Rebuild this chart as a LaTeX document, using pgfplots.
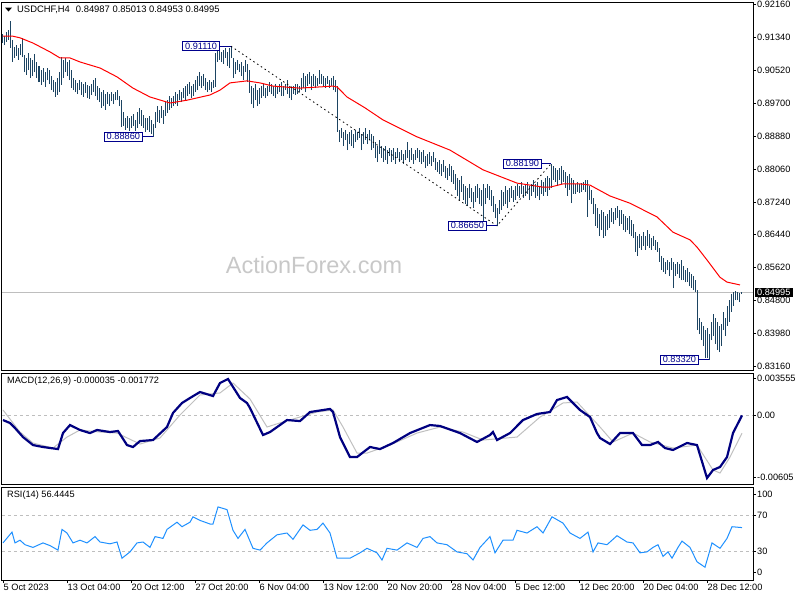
\documentclass[border=0pt]{standalone}
\usepackage{pgfplots}
\pgfplotsset{compat=1.18}
\usepackage{pgfplotstable}
\usepackage{fontspec}
\setmainfont{Liberation Sans}
\definecolor{barcol}{RGB}{28,68,98}
\definecolor{macdcol}{RGB}{0,0,128}
\definecolor{sigcol}{RGB}{192,192,192}
\definecolor{rsicol}{RGB}{30,144,255}
\definecolor{lblcol}{RGB}{0,0,140}
\definecolor{wmcol}{RGB}{200,200,200}
\definecolor{lvlcol}{RGB}{190,190,190}

\pgfplotstableread{
hi lo
0.9141 0.9119
0.9136 0.9114
0.9146 0.9122
0.9151 0.9127
0.9174 0.9107
0.9127 0.9072
0.9109 0.9082
0.9114 0.9087
0.9107 0.9077
0.9117 0.9089
0.9132 0.9084
0.9089 0.9047
0.9082 0.9040
0.9094 0.9052
0.9082 0.9032
0.9077 0.9037
0.9092 0.9047
0.9072 0.9032
0.9062 0.9022
0.9052 0.9015
0.9057 0.9022
0.9047 0.9010
0.9057 0.9027
0.9052 0.9017
0.9037 0.9002
0.9027 0.8997
0.9022 0.8985
0.9032 0.8990
0.9047 0.8997
0.9084 0.9015
0.9077 0.9032
0.9082 0.9047
0.9072 0.9037
0.9077 0.9027
0.9052 0.9007
0.9032 0.9002
0.9027 0.8997
0.9020 0.8992
0.9027 0.9002
0.9022 0.8990
0.9017 0.8985
0.9022 0.8995
0.9015 0.8982
0.9012 0.8980
0.9017 0.8990
0.9027 0.8997
0.9032 0.8987
0.9012 0.8977
0.9007 0.8972
0.8997 0.8958
0.9002 0.8962
0.8992 0.8953
0.8997 0.8967
0.8992 0.8962
0.8997 0.8975
0.8992 0.8967
0.8997 0.8977
0.9002 0.8977
0.8987 0.8962
0.8977 0.8910
0.8948 0.8913
0.8933 0.8903
0.8938 0.8908
0.8933 0.8900
0.8938 0.8908
0.8943 0.8913
0.8928 0.8900
0.8948 0.8908
0.8958 0.8918
0.8953 0.8913
0.8940 0.8908
0.8933 0.8898
0.8933 0.8903
0.8938 0.8898
0.8928 0.8893
0.8918 0.8886
0.8948 0.8908
0.8962 0.8923
0.8953 0.8920
0.8962 0.8933
0.8953 0.8918
0.8972 0.8938
0.8977 0.8945
0.8987 0.8953
0.8982 0.8958
0.8987 0.8962
0.8997 0.8967
0.8992 0.8962
0.9002 0.8977
0.8997 0.8972
0.9007 0.8982
0.9012 0.8977
0.9017 0.8987
0.9022 0.8992
0.9012 0.8982
0.9017 0.8987
0.9027 0.8997
0.9037 0.9002
0.9047 0.9012
0.9037 0.9007
0.9042 0.9012
0.9032 0.9002
0.9022 0.8997
0.9027 0.9002
0.9022 0.8997
0.9027 0.9007
0.9094 0.9010
0.9102 0.9072
0.9107 0.9077
0.9097 0.9072
0.9102 0.9067
0.9107 0.9082
0.9097 0.9062
0.9107 0.9057
0.9111 0.9082
0.9082 0.9032
0.9072 0.9042
0.9077 0.9052
0.9067 0.9047
0.9072 0.9037
0.9062 0.9027
0.9077 0.9047
0.9067 0.9022
0.9052 0.8995
0.9012 0.8967
0.9007 0.8958
0.9017 0.8977
0.9002 0.8962
0.9007 0.8967
0.9012 0.8982
0.9017 0.8987
0.9007 0.8982
0.9012 0.8987
0.9022 0.8997
0.9017 0.8992
0.9012 0.8987
0.9017 0.8982
0.9012 0.8992
0.9017 0.8997
0.9022 0.8987
0.9012 0.8987
0.9017 0.9002
0.9027 0.8992
0.9012 0.8982
0.9007 0.8977
0.9012 0.8992
0.9017 0.8990
0.9017 0.8992
0.9012 0.8997
0.9032 0.9002
0.9045 0.9007
0.9037 0.8997
0.9042 0.9012
0.9047 0.9017
0.9037 0.9002
0.9042 0.9012
0.9037 0.9007
0.9032 0.9012
0.9052 0.9017
0.9042 0.9017
0.9037 0.9012
0.9032 0.9007
0.9037 0.9017
0.9027 0.9007
0.9032 0.9012
0.9037 0.9002
0.9027 0.8997
0.9012 0.8898
0.8903 0.8873
0.8908 0.8883
0.8898 0.8863
0.8903 0.8878
0.8893 0.8853
0.8898 0.8868
0.8903 0.8863
0.8893 0.8858
0.8903 0.8873
0.8898 0.8878
0.8908 0.8883
0.8893 0.8853
0.8898 0.8868
0.8908 0.8878
0.8893 0.8868
0.8903 0.8878
0.8893 0.8853
0.8888 0.8858
0.8873 0.8833
0.8863 0.8823
0.8878 0.8843
0.8863 0.8833
0.8858 0.8823
0.8863 0.8828
0.8853 0.8819
0.8858 0.8838
0.8853 0.8823
0.8858 0.8828
0.8848 0.8819
0.8858 0.8833
0.8848 0.8823
0.8853 0.8828
0.8843 0.8819
0.8853 0.8828
0.8873 0.8833
0.8853 0.8823
0.8858 0.8828
0.8843 0.8819
0.8853 0.8828
0.8858 0.8833
0.8853 0.8823
0.8848 0.8819
0.8853 0.8823
0.8838 0.8808
0.8843 0.8813
0.8848 0.8819
0.8838 0.8813
0.8848 0.8823
0.8833 0.8804
0.8823 0.8799
0.8828 0.8794
0.8819 0.8789
0.8828 0.8799
0.8813 0.8784
0.8808 0.8779
0.8819 0.8789
0.8813 0.8774
0.8804 0.8769
0.8794 0.8754
0.8784 0.8739
0.8779 0.8729
0.8789 0.8749
0.8769 0.8729
0.8764 0.8719
0.8759 0.8714
0.8769 0.8734
0.8759 0.8724
0.8749 0.8709
0.8764 0.8724
0.8769 0.8734
0.8759 0.8719
0.8754 0.8714
0.8769 0.8674
0.8759 0.8719
0.8769 0.8734
0.8764 0.8729
0.8754 0.8714
0.8739 0.8699
0.8719 0.8684
0.8709 0.8665
0.8729 0.8694
0.8754 0.8704
0.8749 0.8714
0.8764 0.8719
0.8754 0.8709
0.8759 0.8724
0.8764 0.8734
0.8754 0.8724
0.8764 0.8729
0.8769 0.8739
0.8764 0.8734
0.8774 0.8744
0.8764 0.8734
0.8769 0.8739
0.8774 0.8744
0.8764 0.8729
0.8769 0.8739
0.8779 0.8749
0.8769 0.8734
0.8774 0.8739
0.8764 0.8729
0.8779 0.8744
0.8774 0.8739
0.8784 0.8749
0.8789 0.8739
0.8784 0.8754
0.8819 0.8759
0.8813 0.8779
0.8808 0.8774
0.8804 0.8764
0.8808 0.8779
0.8813 0.8769
0.8804 0.8774
0.8799 0.8759
0.8789 0.8739
0.8794 0.8754
0.8784 0.8721
0.8779 0.8744
0.8769 0.8744
0.8774 0.8749
0.8769 0.8746
0.8771 0.8749
0.8774 0.8754
0.8779 0.8749
0.8779 0.8687
0.8764 0.8729
0.8754 0.8719
0.8734 0.8694
0.8719 0.8665
0.8709 0.8659
0.8694 0.8639
0.8704 0.8654
0.8699 0.8635
0.8689 0.8639
0.8694 0.8654
0.8704 0.8659
0.8709 0.8674
0.8699 0.8669
0.8709 0.8679
0.8714 0.8684
0.8704 0.8665
0.8704 0.8669
0.8694 0.8654
0.8689 0.8649
0.8684 0.8654
0.8689 0.8644
0.8679 0.8639
0.8669 0.8635
0.8649 0.8600
0.8639 0.8590
0.8644 0.8610
0.8639 0.8605
0.8649 0.8615
0.8639 0.8605
0.8654 0.8615
0.8644 0.8610
0.8635 0.8605
0.8639 0.8615
0.8630 0.8605
0.8625 0.8600
0.8610 0.8575
0.8590 0.8555
0.8585 0.8550
0.8575 0.8545
0.8580 0.8555
0.8575 0.8540
0.8585 0.8555
0.8575 0.8510
0.8570 0.8540
0.8575 0.8545
0.8570 0.8535
0.8580 0.8530
0.8565 0.8530
0.8555 0.8525
0.8560 0.8525
0.8550 0.8515
0.8545 0.8510
0.8540 0.8505
0.8530 0.8500
0.8505 0.8406
0.8436 0.8396
0.8426 0.8381
0.8416 0.8366
0.8406 0.8336
0.8411 0.8336
0.8396 0.8332
0.8426 0.8381
0.8446 0.8391
0.8436 0.8371
0.8426 0.8356
0.8416 0.8351
0.8421 0.8366
0.8451 0.8406
0.8436 0.8391
0.8466 0.8416
0.8480 0.8426
0.8495 0.8451
0.8500 0.8466
0.8503 0.8480
0.8500 0.8480
0.8498 0.8475
0.8501 0.8495
}\bars

\pgfplotsset{panel/.style={
  scale only axis, width=751pt, xmin=-0.5, xmax=375,
  axis line style={black, line width=1pt},
  xtick=\empty, ytick pos=right, yticklabel pos=right,
  scaled y ticks=false, scaled x ticks=false,
  tick align=outside, major tick length=3pt,
  tick style={black, line width=0.8pt},
  tick label style={font=\fontsize{9.2}{10}\selectfont, black},
  yticklabel style={anchor=west, inner xsep=1pt},
}}
\tikzset{lbox/.style={anchor=east, draw=lblcol, fill=white, text=lblcol, line width=1pt, inner xsep=2.5pt, inner ysep=1.2pt, font=\fontsize{9.2}{10}\selectfont}}

\begin{document}
\begin{tikzpicture}
\useasboundingbox (0,0) rectangle (800pt,-600pt);
\node[wmcol, font=\fontsize{23.5}{24}\selectfont] at (314pt,-265pt) {ActionForex.com};

% ---------------- main price panel
\begin{axis}[panel, at={(2pt,-2pt)}, anchor=north west, height=368pt,
  ymin=0.83066, ymax=0.92210,
  ytick={0.9216,0.9134,0.9052,0.8970,0.8888,0.8806,0.8724,0.8644,0.8562,0.8480,0.8398,0.8316},
  yticklabels={0.92160,0.91340,0.90520,0.89700,0.88880,0.88060,0.87240,0.86440,0.85620,0.84800,0.83980,0.83160},
  clip=false]
\addplot[lvlcol, line width=0.8pt] coordinates {(-0.5,0.84995) (375,0.84995)};
\addplot[draw=none, mark=none, forget plot,
  error bars/.cd, y dir=plus, y explicit, error mark=none,
  error bar style={barcol, line width=1pt, solid}]
  table[x expr=\coordindex, y=lo, y error plus expr=\thisrow{hi}-\thisrow{lo}] {\bars};
\addplot[red, line width=1pt] coordinates {
(0,0.9136) (5,0.9136) (8.5,0.9132) (15,0.9119) (23.5,0.9097) (28.5,0.9082) (33.5,0.9082)
(38.5,0.9072) (48.5,0.9057) (57,0.9035) (65,0.9007) (73.5,0.8985) (83.5,0.8970) (92,0.8977)
(103.5,0.8990) (108.5,0.9002) (113.5,0.9020) (122,0.9025) (128.5,0.9020) (135,0.9012)
(148.5,0.9007) (165,0.9012) (167,0.9010) (172,0.8985) (181,0.8958) (190,0.8928) (207,0.8886)
(223.5,0.8853) (240,0.8804) (257,0.8771) (270,0.8761) (273.5,0.8761) (280,0.8769) (288.5,0.8769)
(293.5,0.8766) (303.5,0.8739) (313.5,0.8721) (327,0.8687) (335,0.8649) (343.5,0.8630)
(347,0.8612) (352,0.8580) (358.5,0.8537) (362,0.8525) (368.5,0.8518)};
\addplot[black, line width=0.8pt, dash pattern=on 1.5pt off 3pt] coordinates {(114,0.9111) (247,0.8665) (274,0.8819)};
% annotations
\draw[lblcol, line width=1pt] (axis cs:114,0.9111) -- ++(-11pt,0pt) node[lbox] {0.91110};
\draw[lblcol, line width=1pt] (axis cs:75,0.8886) -- ++(-10pt,0pt) node[lbox] {0.88860};
\draw[lblcol, line width=1pt] (axis cs:247,0.8665) -- ++(-10pt,0pt) node[lbox] {0.86650};
\draw[lblcol, line width=1pt] (axis cs:274,0.8819) -- ++(-9pt,0pt) node[lbox] {0.88190};
\draw[lblcol, line width=1pt] (axis cs:353,0.8332) -- ++(-10pt,0pt) node[lbox] {0.83320};
\coordinate (cp) at (axis cs:375,0.84995);
\end{axis}
\node[anchor=west, fill=black, text=white, inner xsep=2.5pt, inner ysep=1.5pt, font=\fontsize{9.2}{10}\selectfont] at ([xshift=1.5pt]cp) {0.84995};
\fill[black] (5pt,-7.5pt) -- (12pt,-7.5pt) -- (8.5pt,-11.5pt) -- cycle;
\node[anchor=west, font=\fontsize{9.4}{10}\selectfont, inner sep=0pt] at (17pt,-10pt) {USDCHF,H4\hspace{6pt}0.84987 0.85013 0.84953 0.84995};

% ---------------- MACD panel
\begin{axis}[panel, at={(2pt,-373pt)}, anchor=north west, height=111pt,
  ymin=-0.0067275, ymax=0.004095,
  ytick={0.003555,0,-0.00605}, yticklabels={0.003555,0.00,-0.00605}]
\addplot[lvlcol, line width=0.8pt, dashed] coordinates {(-0.5,0) (375,0)};
\addplot[sigcol, line width=1pt] coordinates {
(0,0.00049) (8.5,-0.00166) (15,-0.00273) (25,-0.00322) (32,-0.00215) (38.5,-0.00146)
(48.5,-0.00166) (57,-0.00176) (68.5,-0.00283) (78.5,-0.00224) (88.5,0) (98.5,0.00195)
(108.5,0.00215) (115,0.00312) (123.5,0.00156) (132,-0.00117) (140,-0.00068) (157,0.00029)
(165,0.00049) (170,-0.00117) (177,-0.00371) (182,-0.00371) (193.5,-0.00293) (207,-0.00176)
(218.5,-0.00117) (230,-0.00166) (240,-0.00244) (257,-0.00215) (268.5,-0.00020) (280,0.00117)
(287,0.00127) (298.5,-0.00117) (305,-0.00263) (315,-0.00176) (323.5,-0.00263) (335,-0.00322)
(347,-0.00293) (355,-0.00536) (358.5,-0.00566) (363.5,-0.00410) (369.5,-0.00177)};
\addplot[macdcol, line width=2.2pt] coordinates {
(0,-0.00049) (3.5,-0.00078) (6,-0.00127) (10,-0.00215) (15,-0.00293) (20,-0.00312)
(27.5,-0.00332) (30,-0.00176) (33.5,-0.00098) (38.5,-0.00146) (43.5,-0.00176) (47,-0.00146)
(53.5,-0.00166) (57.5,-0.00156) (62,-0.00293) (65,-0.00312) (68.5,-0.00254) (75,-0.00244)
(82,-0.00117) (85,0.00020) (89.5,0.00117) (93.5,0.00166) (98.5,0.00224) (105,0.00185)
(108.5,0.00312) (112.5,0.00351) (118.5,0.00166) (122,0.00117) (123.5,0.00068) (130,-0.00195)
(133.5,-0.00166) (142,-0.00049) (148.5,-0.00059) (153.5,0.00029) (163.5,0.00059) (165,0.00029)
(168.5,-0.00215) (173.5,-0.00410) (177,-0.00410) (183.5,-0.00312) (188.5,-0.00332)
(195,-0.00273) (203.5,-0.00176) (213.5,-0.00098) (218.5,-0.00107) (228.5,-0.00176)
(237,-0.00263) (243.5,-0.00195) (245,-0.00166) (247,-0.00244) (253.5,-0.00176) (260,-0.00049)
(267,0.00010) (273.5,0.00029) (277,0.00146) (282,0.00176) (288.5,0.00049) (293.5,-0.00020)
(297,-0.00176) (298.5,-0.00224) (303.5,-0.00283) (308.5,-0.00176) (315,-0.00176)
(319.5,-0.00293) (323.5,-0.00293) (327.5,-0.00263) (331,-0.00322) (335,-0.00341)
(342,-0.00273) (347,-0.00293) (352,-0.00614) (355,-0.00536) (358.5,-0.00507) (362,-0.00410)
(365,-0.00176) (369.5,-0.00004)};
\end{axis}
\node[anchor=west, font=\fontsize{9.2}{10}\selectfont, inner sep=0pt] at (7pt,-381pt) {MACD(12,26,9) -0.000035 -0.001772};

% ---------------- RSI panel
\begin{axis}[panel, at={(2pt,-487pt)}, anchor=north west, height=93pt,
  ymin=-2.22, ymax=101.11,
  ytick={6.7,30,70,93.3}, yticklabels={0,30,70,100},
  xtick={0,32,...,352}, xtick pos=bottom,
  xticklabels={5 Oct 2023,13 Oct 04:00,20 Oct 12:00,27 Oct 20:00,6 Nov 04:00,13 Nov 12:00,20 Nov 20:00,28 Nov 04:00,5 Dec 12:00,12 Dec 20:00,20 Dec 04:00,28 Dec 12:00},
  xticklabel style={anchor=north west, inner xsep=0.5pt, inner ysep=1pt}]
\addplot[lvlcol, line width=0.8pt, dashed] coordinates {(-0.5,70) (375,70)};
\addplot[lvlcol, line width=0.8pt, dashed] coordinates {(-0.5,30) (375,30)};
\addplot[rsicol, line width=1pt] coordinates {
(0,39) (4.5,51) (6,39) (8.5,42) (11,37) (15,34) (20,39) (23.5,36) (27.5,31) (29.5,54) (32,50)
(35,39) (38.5,42) (42,39) (46,46) (48.5,40) (53.5,38) (57,40) (59.5,22) (63.5,29) (67,39)
(70,40) (73.5,34) (76,46) (80,44) (82,54) (87,62) (89.5,57) (93.5,62) (95,68) (98.5,64)
(103.5,60) (105,60) (107.5,79) (112,76) (115,53) (117.5,44) (121,54) (125,33) (128.5,31)
(132,39) (137,48) (142,50) (145,43) (150,59) (153.5,53) (157,54) (160,61) (163.5,50)
(167,22) (173.5,22) (178.5,28) (182,33) (187,28) (189.5,20) (192,33) (197,31) (202,39)
(207,34) (210,44) (213.5,46) (217,39) (222,37) (227,29) (232,27) (235,20) (238.5,34)
(243.5,46) (246,28) (250,42) (255,42) (257,53) (262,50) (267,57) (270,50) (274.5,68)
(280,61) (283.5,50) (288.5,44) (292.5,51) (295,29) (297.5,39) (302,37) (307,47) (312,40)
(315,39) (318.5,28) (322,29) (325,34) (327.5,37) (330,24) (332.5,29) (334.5,22) (337.5,34)
(339.5,41) (343.5,34) (347,18) (351,12) (354.5,39) (358.5,33) (362,44) (364.5,57) (369.5,56)};
\end{axis}
\node[anchor=west, font=\fontsize{9.2}{10}\selectfont, inner sep=0pt] at (7pt,-495pt) {RSI(14) 56.4445};
\end{tikzpicture}
\end{document}
